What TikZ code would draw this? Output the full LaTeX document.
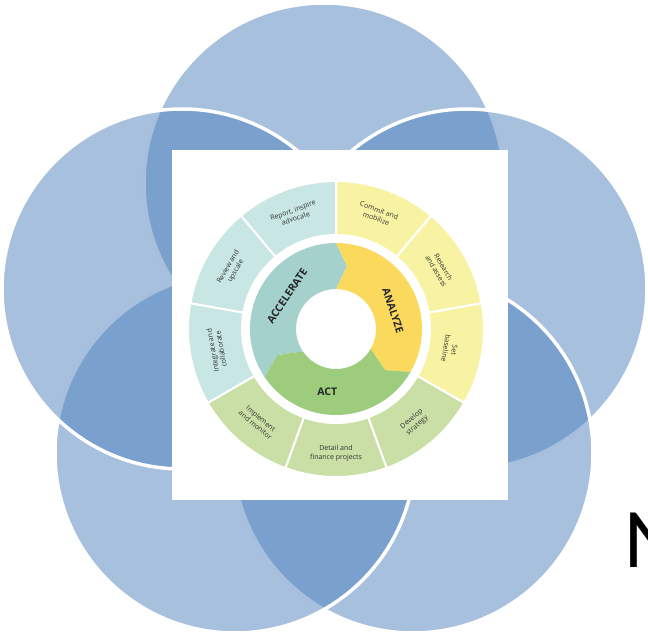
\documentclass[tikz,border=0pt]{standalone}
\usepackage{fontspec}
\setsansfont{Open Sans}
\newfontfamily\calfont{Carlito}

\definecolor{petalblue}{HTML}{4F81BD}
\definecolor{tealseg}{HTML}{C8E6E3}
\definecolor{yellowseg}{HTML}{F8F3A2}
\definecolor{greenseg}{HTML}{C9DFA5}
\definecolor{accelfill}{HTML}{A5D1CC}
\definecolor{analyzefill}{HTML}{FAD95C}
\definecolor{actfill}{HTML}{9DCC7C}
\definecolor{labelgray}{HTML}{333333}

\begin{document}
\begin{tikzpicture}[x=1pt,y=1pt,
    petal/.style={circle,minimum size=360pt,inner sep=0pt,fill=petalblue,
                  fill opacity=0.5,draw=white,line width=3.5pt},
    outerseg/.style={draw=white,line width=2pt},
    seglabel/.style={font=\sffamily\fontsize{7}{8.5}\selectfont,text=labelgray,
                     align=center,inner sep=0pt},
    phase/.style={font=\sffamily\bfseries\fontsize{10.5}{12}\selectfont,
                  text=black!85,inner sep=0pt}]
  \useasboundingbox (0,0) rectangle (648,635);

  % five overlapping circles
  \node[petal] (top)   at (324,452) {};
  \node[petal] (right) at (467,346) {};
  \node[petal] (lowr)  at (413,182) {};
  \node[petal] (lowl)  at (235,182) {};
  \node[petal] (left)  at (182,346) {};

  % white panel with the wheel
  \node[fill=white,minimum width=336pt,minimum height=350pt,inner sep=0pt] (panel) at (340,310) {};
  \coordinate (hub) at (336,306);

  \begin{scope}[shift={(hub)}]
    \filldraw[outerseg,fill=tealseg]   (90:94)   arc (90:130:94)   -- (130:148)  arc (130:90:148)   -- cycle;
    \filldraw[outerseg,fill=tealseg]   (130:94)  arc (130:170:94)  -- (170:148)  arc (170:130:148)  -- cycle;
    \filldraw[outerseg,fill=tealseg]   (170:94)  arc (170:210:94)  -- (210:148)  arc (210:170:148)  -- cycle;
    \filldraw[outerseg,fill=yellowseg] (50:94)   arc (50:90:94)    -- (90:148)   arc (90:50:148)    -- cycle;
    \filldraw[outerseg,fill=yellowseg] (10:94)   arc (10:50:94)    -- (50:148)   arc (50:10:148)    -- cycle;
    \filldraw[outerseg,fill=yellowseg] (-30:94)  arc (-30:10:94)   -- (10:148)   arc (10:-30:148)   -- cycle;
    \filldraw[outerseg,fill=greenseg]  (-70:94)  arc (-70:-30:94)  -- (-30:148)  arc (-30:-70:148)  -- cycle;
    \filldraw[outerseg,fill=greenseg]  (-110:94) arc (-110:-70:94) -- (-70:148)  arc (-70:-110:148) -- cycle;
    \filldraw[outerseg,fill=greenseg]  (-150:94) arc (-150:-110:94) -- (-110:148) arc (-110:-150:148) -- cycle;

    % inner phases
    \fill[accelfill]   (214:86) arc (214:90:86)   -- (80:64)   -- (90:40)   arc (90:214:40)   -- (204:64) -- cycle;
    \fill[analyzefill] (90:86)  arc (90:-30:86)   -- (-40:64)  -- (-30:40)  arc (-30:90:40)   -- (80:64)  -- cycle;
    \fill[actfill]     (-30:86) arc (-30:-146:86) -- (-156:64) -- (-146:40) arc (-146:-30:40) -- (-40:64) -- cycle;

    \node[seglabel,rotate=20]   (report)    at (110:122)  {Report, inspire\\advocate};
    \node[seglabel,rotate=-20]  (commit)    at (70:122)   {Commit and\\mobilize};
    \node[seglabel,rotate=-60]  (research)  at (30:120)   {Research\\and assess};
    \node[seglabel,rotate=-100] (baseline)  at (-10:116)  {Set\\baseline};
    \node[seglabel,rotate=40]   (develop)   at (-50:122)  {Develop\\strategy};
    \node[seglabel]             (detail)    at (-90:124)  {Detail and\\finance projects};
    \node[seglabel,rotate=-40]  (implement) at (-130:121) {Implement\\and monitor};
    \node[seglabel,rotate=100]  (integrate) at (190:121)  {Integrate and\\collaborate};
    \node[seglabel,rotate=60]   (review)    at (150:120)  {Review and\\upscale};

    \node[phase,rotate=56]  (accelerate) at (146:59) {ACCELERATE};
    \node[phase,rotate=-72] (analyze)    at (18:60)  {ANALYZE};
    \node[phase]            (act)        at (-98:63) {ACT};
  \end{scope}

  \node[font=\calfont\fontsize{85}{90}\selectfont,anchor=base west,inner sep=0pt] (title) at (624,68) {N};
\end{tikzpicture}
\end{document}
